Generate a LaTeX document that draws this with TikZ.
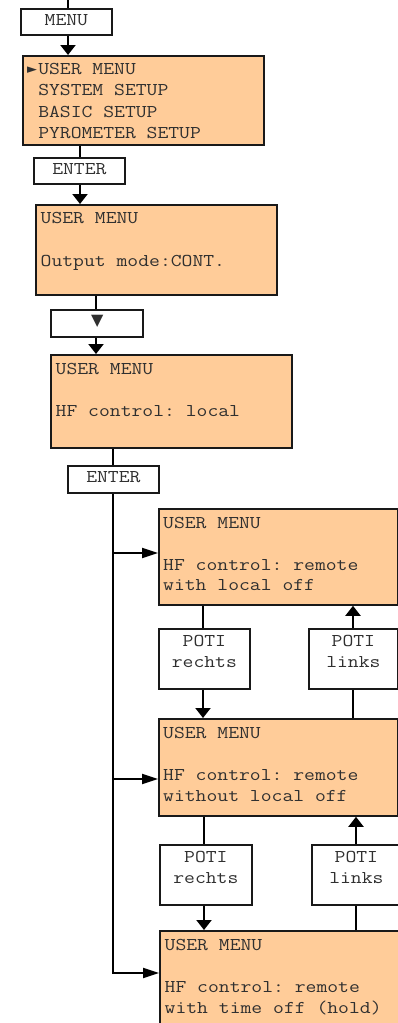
\documentclass[tikz,border=0pt]{standalone}
\usepackage{fontspec}
\newfontfamily\lcdfont[FakeStretch=1.17]{Latin Modern Mono}
\newfontfamily\symfont{DejaVu Sans}
\usetikzlibrary{arrows.meta,calc}
\definecolor{peach}{RGB}{255,204,153}
\definecolor{txtgray}{RGB}{48,48,48}
\begin{document}
\begin{tikzpicture}[x=1pt,y=-1pt,
  box/.style={draw=black!90, line width=1.8pt, inner sep=0pt, anchor=north west},
  menubox/.style={box, fill=peach, minimum width=#1},
  keybox/.style={box, fill=white},
  txt/.style={font=\lcdfont\fontsize{18}{21}\selectfont\frenchspacing, text=txtgray, inner sep=0pt},
  ltxt/.style={txt, anchor=base west},
  ctxt/.style={txt, anchor=base},
  ln/.style={line width=2pt, draw=black},
  varr/.style={ln, -{Triangle[width=15pt,length=10pt]}},
  harr/.style={ln, -{Triangle[width=10pt,length=16pt]}}
]
\useasboundingbox (0,0) rectangle (398,1023);
\clip (0,0) rectangle (398,1023);

% boxes
\node[keybox, minimum width=91pt, minimum height=26pt] (menu) at (20,8) {};
\node[menubox=241pt, minimum height=89pt] (b1) at (22,55) {};
\node[keybox, minimum width=91pt, minimum height=26pt] (enter1) at (33,157) {};
\node[menubox=241pt, minimum height=90pt] (b2) at (35,204) {};
\node[keybox, minimum width=92pt, minimum height=27pt] (down) at (50,309) {};
\node[menubox=241pt, minimum height=93pt] (b3) at (50,354) {};
\node[keybox, minimum width=91pt, minimum height=27pt] (enter2) at (67,465) {};
\node[menubox=239pt, minimum height=96pt] (b4) at (158,508) {};
\node[keybox, minimum width=91pt, minimum height=60pt] (pr1) at (158,628) {};
\node[keybox, minimum width=89pt, minimum height=60pt] (pl1) at (308,628) {};
\node[menubox=239pt, minimum height=97pt] (b5) at (158,718) {};
\node[keybox, minimum width=92pt, minimum height=60pt] (pr2) at (159,844) {};
\node[keybox, minimum width=89pt, minimum height=60pt] (pl2) at (311,844) {};
\node[menubox=240pt, minimum height=97pt] (b6) at (159,930) {};

% texts
\node[ctxt] (tmenu) at ([shift={(0,17)}]menu.north) {MENU};
\node[ltxt] (t1a) at ([shift={(5,19)}]b1.north west) {\makebox[11.05pt][l]{\symfont\fontsize{13}{21}\selectfont\raisebox{0.5pt}{►}}USER MENU};
\node[ltxt] (t1b) at ([shift={(5,40.5)}]b1.north west) {\hspace*{11.05pt}SYSTEM SETUP};
\node[ltxt] (t1c) at ([shift={(5,62)}]b1.north west) {\hspace*{11.05pt}BASIC SETUP};
\node[ltxt] (t1d) at ([shift={(5,83)}]b1.north west) {\hspace*{11.05pt}PYROMETER SETUP};
\node[ctxt] (tenter1) at ([shift={(0,17)}]enter1.north) {ENTER};
\node[ltxt] (t2a) at ([shift={(5.5,19.5)}]b2.north west) {USER MENU};
\node[ltxt] (t2b) at ([shift={(5.5,62.5)}]b2.north west) {Output mode:CONT.};
\node[txt, anchor=center, font=\symfont\fontsize{16}{18}\selectfont] (tdown) at ([shift={(0.5,-2.5)}]down.center) {▼};
\node[ltxt] (t3a) at ([shift={(5.5,20)}]b3.north west) {USER MENU};
\node[ltxt] (t3b) at ([shift={(5.5,62)}]b3.north west) {HF control: local};
\node[ctxt] (tenter2) at ([shift={(0,17)}]enter2.north) {ENTER};
\node[ltxt] (t4a) at ([shift={(5,20)}]b4.north west) {USER MENU};
\node[ltxt] (t4b) at ([shift={(5,62)}]b4.north west) {HF control: remote};
\node[ltxt] (t4c) at ([shift={(5,82.5)}]b4.north west) {with local off};
\node[ctxt] (tpr1a) at ([shift={(0,18)}]pr1.north) {POTI};
\node[ctxt] (tpr1b) at ([shift={(0,39)}]pr1.north) {rechts};
\node[ctxt] (tpl1a) at ([shift={(0,18)}]pl1.north) {POTI};
\node[ctxt] (tpl1b) at ([shift={(0,39)}]pl1.north) {links};
\node[ltxt] (t5a) at ([shift={(5,20.5)}]b5.north west) {USER MENU};
\node[ltxt] (t5b) at ([shift={(5,62.5)}]b5.north west) {HF control: remote};
\node[ltxt] (t5c) at ([shift={(5,83)}]b5.north west) {without local off};
\node[ctxt] (tpr2a) at ([shift={(0,18)}]pr2.north) {POTI};
\node[ctxt] (tpr2b) at ([shift={(0,39)}]pr2.north) {rechts};
\node[ctxt] (tpl2a) at ([shift={(0,18)}]pl2.north) {POTI};
\node[ctxt] (tpl2b) at ([shift={(0,39)}]pl2.north) {links};
\node[ltxt] (t6a) at ([shift={(5.5,20.5)}]b6.north west) {USER MENU};
\node[ltxt] (t6b) at ([shift={(5.5,62.5)}]b6.north west) {HF control: remote};
\node[ltxt] (t6c) at ([shift={(5.5,83)}]b6.north west) {with time off (hold)};

% connector columns
\coordinate (xa) at (68,-5);
\coordinate (xb) at (80,0);
\coordinate (xc) at (96,0);
\coordinate (xe) at (113,0);
\coordinate (xf) at (203,0);
\coordinate (xg) at (353,0);
\coordinate (xh) at (204,0);
\coordinate (xi) at (356,0);
\coordinate (br4) at (113,553);
\coordinate (br5) at (113,779);
\coordinate (br6) at (113,973);

\draw[ln] (xa) -- (menu.north -| xa);
\draw[varr] (menu.south -| xa) -- (b1.north -| xa);
\draw[ln] (b1.south -| xb) -- (enter1.north -| xb);
\draw[varr] (enter1.south -| xb) -- (b2.north -| xb);
\draw[ln] (b2.south -| xc) -- (down.north -| xc);
\draw[varr] (down.south -| xc) -- (b3.north -| xc);
\draw[ln] (b3.south -| xe) -- (enter2.north -| xe);
\draw[harr] (enter2.south -| xe) -- (br6) -- (br6 -| b6.west);
\draw[harr] (br4) -- (br4 -| b4.west);
\draw[harr] (br5) -- (br5 -| b5.west);
\draw[ln] (b4.south -| xf) -- (pr1.north -| xf);
\draw[varr] (pr1.south -| xf) -- (b5.north -| xf);
\draw[varr] (pl1.north -| xg) -- (b4.south -| xg);
\draw[ln] (b5.north -| xg) -- (pl1.south -| xg);
\draw[ln] (b5.south -| xh) -- (pr2.north -| xh);
\draw[varr] (pr2.south -| xh) -- (b6.north -| xh);
\draw[varr] (pl2.north -| xi) -- (b5.south -| xi);
\draw[ln] (b6.north -| xi) -- (pl2.south -| xi);
\end{tikzpicture}
\end{document}
